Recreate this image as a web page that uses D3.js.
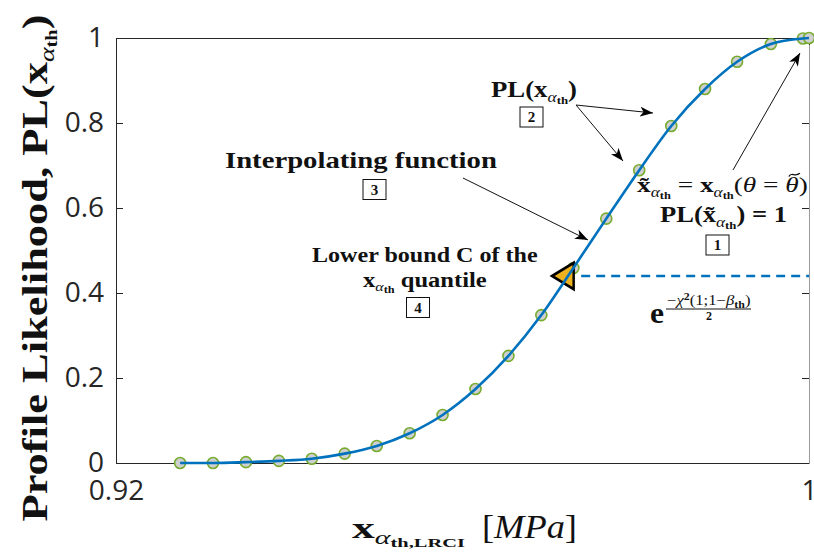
<!DOCTYPE html>
<html>
<head>
<meta charset="utf-8">
<script src="https://cdn.jsdelivr.net/npm/d3@7"></script>
<style>
  html, body { margin: 0; padding: 0; background: #fff; }
  svg { display: block; }
</style>
</head>
<body>
<script>
// Profile likelihood of the alpha_th quantile, evaluated on a grid of candidate values [MPa]
const xProfile = [0.9274, 0.9312, 0.9350, 0.9388, 0.9426, 0.9464, 0.9501, 0.9539, 0.9577, 0.9615,
                  0.9653, 0.9691, 0.9728, 0.9766, 0.9804, 0.9841, 0.9880, 0.9917, 0.9956, 0.9993, 1.0];
const plProfile = [0.000, 0.000, 0.002, 0.005, 0.010, 0.022, 0.040, 0.070, 0.113, 0.174,
                   0.252, 0.348, 0.459, 0.575, 0.689, 0.793, 0.880, 0.944, 0.986, 0.999, 1.000];

// Likelihood-ratio threshold exp(-chi2(1;1-beta_th)/2) and the lower confidence bound C
const plThreshold = 0.44;
const lowerBoundC = 0.9720;
const thresholdSpan = [0.9737, 1.0];

// Axis settings
const xDomain = [0.92, 1];
const yDomain = [0, 1];
const xTickValues = [0.92, 1];
const yTickValues = [0, 0.2, 0.4, 0.6, 0.8, 1];

const W = 814, H = 558;
const SERIF = "'Liberation Serif', 'DejaVu Serif', serif";
const SANS = "'Open Sans', sans-serif";
const axisColor = "#262626";
const curveColor = "#0072BD";

const svg = d3.select("body").append("svg")
  .attr("width", W).attr("height", H)
  .style("background", "#fff");

const x = d3.scaleLinear().domain(xDomain).range([116, 809]);
const y = d3.scaleLinear().domain(yDomain).range([463, 38]);

// Arrow head used by the annotations
svg.append("defs").append("marker")
  .attr("id", "head")
  .attr("viewBox", "0 0 13 10")
  .attr("refX", 13).attr("refY", 5)
  .attr("markerUnits", "userSpaceOnUse")
  .attr("markerWidth", 13).attr("markerHeight", 10)
  .attr("orient", "auto")
  .append("path")
  .attr("d", "M0,0L13,5L0,10L3.5,5Z")
  .attr("fill", "#000");

// ---- axes (box with inward ticks) ----
const gLeft = svg.append("g")
  .attr("transform", `translate(${x(xDomain[0])},0)`)
  .call(d3.axisLeft(y).tickValues(yTickValues).tickSizeInner(-7).tickSizeOuter(0)
        .tickPadding(12).tickFormat(d3.format("~g")));

const gBottom = svg.append("g")
  .attr("transform", `translate(0,${y(yDomain[0])})`)
  .call(d3.axisBottom(x).tickValues(xTickValues).tickSizeInner(-7).tickSizeOuter(0)
        .tickPadding(17).tickFormat(d3.format("~g")));

const gRight = svg.append("g")
  .attr("transform", `translate(${x(xDomain[1])},0)`)
  .call(d3.axisRight(y).tickValues(yTickValues).tickSizeInner(-7).tickSizeOuter(0).tickFormat(""));

const gTop = svg.append("g")
  .attr("transform", `translate(0,${y(yDomain[1])})`)
  .call(d3.axisTop(x).tickValues(xTickValues).tickSizeInner(-7).tickSizeOuter(0).tickFormat(""));

[gLeft, gBottom, gRight, gTop].forEach(g => {
  g.selectAll("path.domain").attr("stroke", axisColor).attr("stroke-width", 1);
  g.selectAll(".tick line").attr("stroke", axisColor);
  g.selectAll(".tick text")
    .attr("fill", axisColor)
    .style("font-family", SANS)
    .style("font-size", "28px");
});
gRight.selectAll("path.domain").attr("stroke", "#9a9a9a");

// ---- data ----
const pts = xProfile.map((v, i) => ({ x: v, y: plProfile[i] }));

svg.append("g").selectAll("circle")
  .data(pts).join("circle")
  .attr("cx", d => x(d.x)).attr("cy", d => y(d.y))
  .attr("r", 5.5)
  .attr("fill", "#cfcfcf")
  .attr("stroke", "#77AC30")
  .attr("stroke-width", 1.6);

// Lower bound marker
const tri = d3.symbol().type(d3.symbolTriangle).size(300)();
svg.append("path")
  .attr("d", tri)
  .attr("transform", `translate(${x(lowerBoundC)},${y(plThreshold)}) rotate(-90) scale(1,0.95)`)
  .attr("fill", "#EDB120")
  .attr("stroke", "#000")
  .attr("stroke-width", 2.6)
  .attr("stroke-linejoin", "miter");

// Threshold line
svg.append("line")
  .attr("x1", x(thresholdSpan[0])).attr("x2", x(thresholdSpan[1]))
  .attr("y1", y(plThreshold)).attr("y2", y(plThreshold))
  .attr("stroke", curveColor)
  .attr("stroke-width", 2.6)
  .attr("stroke-dasharray", "9,6");

// Interpolating function through the profile points
const line = d3.line().x(d => x(d.x)).y(d => y(d.y)).curve(d3.curveMonotoneX);
svg.append("path")
  .datum(pts)
  .attr("d", line)
  .attr("fill", "none")
  .attr("stroke", curveColor)
  .attr("stroke-width", 2.6);

// ---- rich text helper: runs of tspans, optionally stretched to a set width ----
// A run flagged with `tilde` gets a small wave accent drawn above its glyph.
function rich(parent, px, py, runs, opts = {}) {
  const g = parent.append("g");
  if (opts.rotate) g.attr("transform", opts.rotate);
  const inner = g.append("g");
  const t = inner.append("text")
    .attr("x", px).attr("y", py)
    .attr("text-anchor", opts.anchor || "start")
    .attr("fill", "#111");
  const accents = [];
  let charIndex = 0;
  runs.forEach(r => {
    const s = t.append("tspan").text(r.t)
      .style("font-family", r.f || SERIF)
      .style("font-size", r.s + "px")
      .style("font-weight", r.w || "normal")
      .style("font-style", r.st || "normal");
    if (r.dy) s.attr("dy", r.dy);
    if (r.dx) s.attr("dx", r.dx);
    if (r.tilde) accents.push({ idx: charIndex, size: r.s });
    charIndex += r.t.length;
  });
  accents.forEach(a => {
    const node = t.node();
    const p0 = node.getStartPositionOfChar(a.idx);
    const p1 = node.getEndPositionOfChar(a.idx);
    const cx = (p0.x + p1.x) / 2 + a.size * 0.08;
    const yb = p0.y - a.size * 0.78;
    const hw = a.size * 0.2, amp = a.size * 0.08;
    inner.append("path")
      .attr("d", `M${cx - hw},${yb + amp} C${cx - hw * 0.5},${yb - amp * 2} ${cx + hw * 0.1},${yb + amp * 1.6} ${cx + hw},${yb - amp}`)
      .attr("fill", "none").attr("stroke", "#111").attr("stroke-width", 1.2);
  });
  if (opts.width) {
    const w = t.node().getBBox().width;
    const sx = opts.width / w;
    inner.attr("transform", `translate(${px},0) scale(${sx},1) translate(${-px},0)`);
  }
  return t;
}

function numberBox(cx, cy, label) {
  const g = svg.append("g");
  g.append("rect")
    .attr("x", cx - 11.5).attr("y", cy - 10)
    .attr("width", 23).attr("height", 20)
    .attr("fill", "#fff").attr("stroke", "#111").attr("stroke-width", 1);
  g.append("text")
    .attr("x", cx).attr("y", cy + 5)
    .attr("text-anchor", "middle")
    .style("font-family", SERIF).style("font-weight", "bold").style("font-size", "15px")
    .attr("fill", "#111")
    .text(label);
}

function arrow(x1, y1, x2, y2) {
  svg.append("line")
    .attr("x1", x1).attr("y1", y1).attr("x2", x2).attr("y2", y2)
    .attr("stroke", "#111").attr("stroke-width", 1)
    .attr("marker-end", "url(#head)");
}

// ---- axis titles ----
rich(svg, 0, 0, [
  { t: "Profile Likelihood, PL(", s: 35, w: "bold" },
  { t: "x", s: 35, w: "bold" },
  { t: "α", s: 22, st: "italic", dy: 7 },
  { t: "th", s: 16, w: "bold", dy: 3 },
  { t: ")", s: 35, w: "bold", dy: -10 }
], { anchor: "middle", rotate: "translate(47,268) rotate(-90)", width: 507 });

rich(svg, 352, 538, [
  { t: "x", s: 29, w: "bold" },
  { t: "α", s: 19, st: "italic", dy: 6 },
  { t: "th,LRCI", s: 13, w: "bold", dy: 3 }
], { width: 113 });
rich(svg, 482, 538, [
  { t: "[", s: 34 },
  { t: "MPa", s: 34, st: "italic" },
  { t: "]", s: 34 }
], { width: 95 });

// ---- annotations ----
rich(svg, 491, 97, [
  { t: "PL(", s: 23, w: "bold" },
  { t: "x", s: 23, w: "bold" },
  { t: "α", s: 15, st: "italic", dy: 5 },
  { t: "th", s: 11, w: "bold", dy: 2 },
  { t: ")", s: 23, w: "bold", dy: -7 }
], { width: 86 });
numberBox(531.5, 117, "2");
arrow(576, 105, 653, 113);
arrow(576, 105, 623, 161);

rich(svg, 225, 168, [{ t: "Interpolating function", s: 24, w: "bold" }], { width: 272 });
numberBox(374.5, 189.5, "3");
arrow(463, 178, 588, 240);

rich(svg, 312, 262, [{ t: "Lower bound C of the", s: 20, w: "bold" }], { width: 226 });
rich(svg, 363, 287, [
  { t: "x", s: 20, w: "bold" },
  { t: "α", s: 13, st: "italic", dy: 4 },
  { t: "th", s: 10, w: "bold", dy: 2 },
  { t: " quantile", s: 20, w: "bold", dy: -6 }
], { width: 124 });
numberBox(418, 307.5, "4");

rich(svg, 637, 192, [
  { t: "x̃", s: 22, w: "bold" },
  { t: "α", s: 14, st: "italic", dy: 5 },
  { t: "th", s: 10, w: "bold", dy: 2 },
  { t: " = ", s: 22, dy: -7 },
  { t: "x", s: 22, w: "bold" },
  { t: "α", s: 14, st: "italic", dy: 5 },
  { t: "th", s: 10, w: "bold", dy: 2 },
  { t: "(", s: 22, dy: -7 },
  { t: "θ", s: 22, st: "italic" },
  { t: " = ", s: 22 },
  { t: "θ", s: 22, st: "italic", tilde: true },
  { t: ")", s: 22 }
], { width: 171 });
rich(svg, 660, 222, [
  { t: "PL(", s: 23, w: "bold" },
  { t: "x̃", s: 23, w: "bold" },
  { t: "α", s: 15, st: "italic", dy: 5 },
  { t: "th", s: 11, w: "bold", dy: 2 },
  { t: ") = 1", s: 23, w: "bold", dy: -7 }
], { width: 127 });
numberBox(717.5, 245, "1");
arrow(733, 170, 800, 53);

// exp(-chi2(1;1-beta_th)/2)
rich(svg, 650, 323, [{ t: "e", s: 30, w: "bold" }], { width: 14 });
rich(svg, 667, 305, [
  { t: "−", s: 14 },
  { t: "χ", s: 14, st: "italic" },
  { t: "2", s: 10, w: "bold", dy: -5 },
  { t: "(1;1−", s: 14, dy: 5 },
  { t: "β", s: 14, st: "italic" },
  { t: "th", s: 10, w: "bold", dy: 3 },
  { t: ")", s: 14, dy: -3 }
], { width: 84 });
svg.append("line")
  .attr("x1", 666).attr("x2", 751).attr("y1", 309).attr("y2", 309)
  .attr("stroke", "#111").attr("stroke-width", 1);
rich(svg, 709, 320, [{ t: "2", s: 12, w: "bold" }], { anchor: "middle" });
</script>
</body>
</html>
